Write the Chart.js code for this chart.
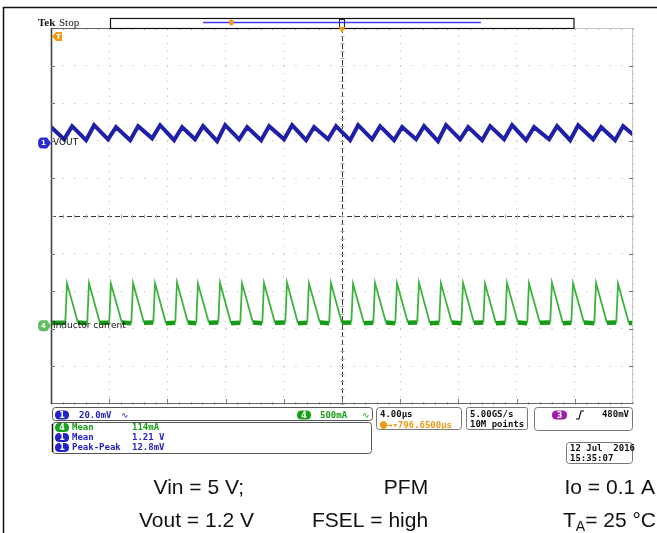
<!DOCTYPE html>
<html>
<head>
<meta charset="utf-8">
<script src="https://cdn.jsdelivr.net/npm/chart.js@4.4.1/dist/chart.umd.min.js"></script>
<style>
  body { margin: 0; background: #fff; }
  canvas { display: block; }
</style>
</head>
<body>
<canvas id="scope" width="657" height="533"></canvas>
<script>
// time in µs (4 µs/div, trigger at 0)
// VOUT ripple in mV above the ch1 marker (20 mV/div)
const vTime = [-20,
  -19.10, -18.55, -17.59, -17.04, -16.08, -15.53, -14.56, -14.01, -13.05, -12.50,
  -11.54, -10.99, -10.10, -9.55, -8.58, -8.03, -7.07, -6.52, -5.56, -5.01,
  -3.98, -3.43, -2.47, -1.92, -0.96, -0.41, 0.56, 1.11, 2.07, 2.62,
  3.58, 4.13, 5.09, 5.64, 6.60, 7.15, 8.12, 8.67, 9.63, 10.18,
  11.14, 11.69, 12.65, 13.20, 14.23, 14.78, 15.68, 16.23, 17.26, 17.81,
  18.77, 19.32, 20];
const vRipple = [8.5,
  2.0, 9.0, 1.5, 9.5, 2.0, 8.5, 1.5, 9.0, 2.5, 9.5,
  1.5, 8.5, 2.0, 9.0, 1.0, 9.5, 2.0, 8.5, 1.5, 9.0,
  2.0, 9.5, 1.5, 8.5, 2.0, 9.0, 1.5, 9.5, 2.0, 9.0,
  1.5, 8.5, 2.0, 9.0, 1.0, 9.5, 2.0, 8.5, 1.5, 9.0,
  2.0, 9.5, 1.5, 8.5, 2.0, 9.0, 1.5, 9.5, 2.0, 8.5,
  1.5, 9.0, 4.5];

// inductor current in mA above the ch4 marker (500 mA/div)
const iTime = [-20,
  -19.02, -18.90, -18.15, -17.51, -17.39, -16.64, -16.00, -15.88, -15.13,
  -14.48, -14.36, -13.61, -12.97, -12.85, -12.10, -11.46, -11.34, -10.59,
  -10.02, -9.90, -9.15, -8.50, -8.38, -7.63, -6.99, -6.87, -6.12,
  -5.48, -5.36, -4.61, -3.90, -3.78, -3.03, -2.39, -2.27, -1.52,
  -0.88, -0.76, -0.01, 0.64, 0.76, 1.51, 2.15, 2.27, 3.02,
  3.66, 3.78, 4.53, 5.17, 5.29, 6.04, 6.68, 6.80, 7.55,
  8.20, 8.32, 9.07, 9.71, 9.83, 10.58, 11.22, 11.34, 12.09,
  12.73, 12.85, 13.60, 14.31, 14.43, 15.18, 15.76, 15.88, 16.63,
  17.34, 17.46, 18.21, 18.85, 18.97, 19.72,
  20];
const iCurrent = [40,
  40, 565, 45, 35, 570, 40, 40, 560, 45,
  35, 570, 40, 45, 565, 35, 40, 575, 45,
  35, 560, 40, 45, 570, 35, 40, 565, 45,
  35, 570, 40, 45, 575, 35, 40, 565, 45,
  35, 570, 40, 45, 560, 35, 40, 570, 45,
  35, 565, 40, 45, 575, 35, 40, 565, 45,
  35, 570, 40, 45, 560, 35, 40, 570, 45,
  35, 565, 40, 45, 575, 35, 40, 565, 45,
  35, 570, 40, 45, 560, 35,
  40];

const measChannel = [4, 1, 1];
const measName = ["Mean", "Mean", "Peak-Peak"];
const measValue = ["114mA", "1.21 V", "12.8mV"];

const BLUE = "#1f1fa8";
const GREEN = "#179a17";
const ORANGE = "#f29a12";
const chColor = { 1: "#2323c8", 4: "#16a016" };

const ch1Pos = 1.94;   // marker position, divisions above centre
const ch4Pos = -2.92;

function rrect(ctx, x, y, w, h, r) {
  ctx.beginPath();
  ctx.moveTo(x + r, y);
  ctx.lineTo(x + w - r, y);
  ctx.quadraticCurveTo(x + w, y, x + w, y + r);
  ctx.lineTo(x + w, y + h - r);
  ctx.quadraticCurveTo(x + w, y + h, x + w - r, y + h);
  ctx.lineTo(x + r, y + h);
  ctx.quadraticCurveTo(x, y + h, x, y + h - r);
  ctx.lineTo(x, y + r);
  ctx.quadraticCurveTo(x, y, x + r, y);
  ctx.closePath();
}

function pill(ctx, x, y, w, h, fill, label) {
  ctx.fillStyle = fill;
  rrect(ctx, x, y, w, h, h / 2);
  ctx.fill();
  ctx.fillStyle = "#fff";
  ctx.font = 'bold 8px "DejaVu Sans"';
  ctx.textAlign = "center";
  ctx.textBaseline = "middle";
  ctx.fillText(label, x + w / 2, y + h / 2 + 0.5);
}

function chanMarker(ctx, xTip, yc, fill, label) {
  const w = 13, h = 11;
  ctx.fillStyle = fill;
  ctx.beginPath();
  ctx.moveTo(xTip - w + 4, yc - h / 2);
  ctx.lineTo(xTip - 4, yc - h / 2);
  ctx.lineTo(xTip, yc);
  ctx.lineTo(xTip - 4, yc + h / 2);
  ctx.lineTo(xTip - w + 4, yc + h / 2);
  ctx.quadraticCurveTo(xTip - w, yc + h / 2, xTip - w, yc);
  ctx.quadraticCurveTo(xTip - w, yc - h / 2, xTip - w + 4, yc - h / 2);
  ctx.fill();
  ctx.fillStyle = "#fff";
  ctx.font = 'bold 7px "DejaVu Sans"';
  ctx.textAlign = "center";
  ctx.textBaseline = "middle";
  ctx.fillText(label, xTip - w / 2 - 1, yc + 0.5);
}

function txt(ctx, s, x, y, color, font, align) {
  ctx.fillStyle = color;
  ctx.font = font;
  ctx.textAlign = align || "left";
  ctx.textBaseline = "middle";
  ctx.fillText(s, x, y);
}

const scopeDecor = {
  id: "scopeDecor",
  beforeDatasetsDraw(chart) {
    const { ctx, chartArea: a, scales } = chart;
    const x = scales.x, yg = scales.yg;
    const cx = Math.round(x.getPixelForValue(0)) + 0.5;
    const cy = Math.round(yg.getPixelForValue(0)) + 0.5;
    ctx.save();
    ctx.strokeStyle = "#333";
    ctx.lineWidth = 1;
    ctx.setLineDash([5, 3]);
    ctx.beginPath();
    ctx.moveTo(cx, a.top); ctx.lineTo(cx, a.bottom);
    ctx.moveTo(a.left, cy); ctx.lineTo(a.right, cy);
    ctx.stroke();
    ctx.setLineDash([]);
    ctx.strokeStyle = "#aaa";
    ctx.beginPath();
    for (let v = -20; v <= 20.01; v += 0.8) {
      const px = Math.round(x.getPixelForValue(v)) + 0.5;
      ctx.moveTo(px, cy - 2); ctx.lineTo(px, cy + 2);
      ctx.moveTo(px, a.bottom - 2); ctx.lineTo(px, a.bottom);
      ctx.moveTo(px, a.top); ctx.lineTo(px, a.top + 2);
    }
    for (let v = -5; v <= 5.01; v += 0.2) {
      const py = Math.round(yg.getPixelForValue(v)) + 0.5;
      ctx.moveTo(cx - 2, py); ctx.lineTo(cx + 2, py);
    }
    ctx.stroke();
    ctx.restore();
  },
  afterDraw(chart) {
    const { ctx, chartArea: a, scales } = chart;
    const x = scales.x, yg = scales.yg;
    ctx.save();

    // page frame
    ctx.strokeStyle = "#111";
    ctx.lineWidth = 1.5;
    ctx.beginPath();
    ctx.moveTo(3.5, 533); ctx.lineTo(3.5, 7.5); ctx.lineTo(657, 7.5);
    ctx.stroke();

    // graticule border
    ctx.lineWidth = 1;
    ctx.strokeStyle = "#c4c4c4";
    ctx.beginPath();
    ctx.moveTo(a.right - 0.5, a.top); ctx.lineTo(a.right - 0.5, a.bottom);
    ctx.moveTo(574, a.top + 0.5); ctx.lineTo(a.right, a.top + 0.5);
    ctx.stroke();
    ctx.strokeStyle = "#666";
    ctx.beginPath();
    ctx.moveTo(a.left, a.top + 0.5); ctx.lineTo(110, a.top + 0.5);
    ctx.moveTo(a.left, a.bottom - 0.5); ctx.lineTo(a.right, a.bottom - 0.5);
    ctx.stroke();
    ctx.strokeStyle = "#444";
    ctx.lineWidth = 1.6;
    ctx.beginPath();
    ctx.moveTo(a.left + 0.5, a.top); ctx.lineTo(a.left + 0.5, a.bottom);
    ctx.stroke();
    ctx.lineWidth = 1;
    ctx.strokeStyle = "#777";
    ctx.beginPath();
    for (let v = -4; v <= 4; v++) {
      const py = Math.round(yg.getPixelForValue(v)) + 0.5;
      ctx.moveTo(a.left, py); ctx.lineTo(a.left + 4, py);
      ctx.moveTo(a.right - 4, py); ctx.lineTo(a.right, py);
    }
    for (let v = -16; v <= 16; v += 4) {
      const px = Math.round(x.getPixelForValue(v)) + 0.5;
      ctx.moveTo(px, a.bottom - 5); ctx.lineTo(px, a.bottom);
    }
    ctx.stroke();

    // record view bar
    ctx.strokeStyle = "#111";
    ctx.lineWidth = 1.2;
    ctx.strokeRect(110.5, 18.5, 463.5, 10);
    ctx.strokeStyle = "#3f3ff5";
    ctx.lineWidth = 1.3;
    ctx.beginPath(); ctx.moveTo(203, 22.5); ctx.lineTo(481, 22.5); ctx.stroke();
    ctx.fillStyle = ORANGE;
    rrect(ctx, 229, 19.5, 4.5, 6, 2); ctx.fill();
    ctx.strokeStyle = "#222";
    ctx.lineWidth = 1;
    ctx.strokeRect(339.5, 19.5, 5, 8);
    // trigger position
    const tx = x.getPixelForValue(0);
    ctx.fillStyle = ORANGE;
    ctx.beginPath();
    ctx.moveTo(tx - 3.5, 27); ctx.lineTo(tx + 3.5, 27); ctx.lineTo(tx, 33); ctx.closePath();
    ctx.fill();

    // Tek Stop
    ctx.fillStyle = "#111";
    ctx.textBaseline = "alphabetic";
    ctx.textAlign = "left";
    ctx.font = 'bold 11px "Liberation Serif"';
    ctx.fillText("Tek", 38, 26);
    ctx.font = '11px "Liberation Serif"';
    ctx.fillText("Stop", 59, 26);

    // trigger level marker
    ctx.fillStyle = ORANGE;
    ctx.beginPath();
    ctx.moveTo(a.left + 1, 36.5); ctx.lineTo(a.left + 5, 32); ctx.lineTo(a.left + 11, 32);
    ctx.lineTo(a.left + 11, 41); ctx.lineTo(a.left + 5, 41); ctx.closePath();
    ctx.fill();
    txt(ctx, "T", a.left + 7.5, 36.8, "#fff", 'bold 7px "DejaVu Sans"', "center");

    // channel markers
    const y1p = chart.scales.y1.getPixelForValue(0);
    const y4p = chart.scales.y4.getPixelForValue(0);
    chanMarker(ctx, a.left, y1p, "#2a2ad0", "1");
    chanMarker(ctx, a.left, y4p, "#5fbf5f", "4");
    txt(ctx, "VOUT", a.left + 2, y1p, "#111", '9px "DejaVu Sans"');
    txt(ctx, "Inductor current", a.left + 2, y4p, "#111", '9px "DejaVu Sans"');

    // readout boxes
    const mono = 'bold 9px "DejaVu Sans Mono"';
    ctx.strokeStyle = "#555";
    ctx.lineWidth = 1;
    rrect(ctx, 52.5, 407.5, 320, 13, 3); ctx.stroke();
    rrect(ctx, 52.5, 422.5, 319, 31, 3); ctx.stroke();
    ctx.strokeStyle = "#111";
    ctx.lineWidth = 1.5;
    ctx.beginPath(); ctx.moveTo(52.5, 424); ctx.lineTo(52.5, 452); ctx.stroke();
    ctx.strokeStyle = "#777";
    ctx.lineWidth = 1;
    rrect(ctx, 376.5, 407.5, 85, 22, 3); ctx.stroke();
    rrect(ctx, 466.5, 407.5, 61, 22, 2); ctx.stroke();
    rrect(ctx, 534.5, 407.5, 98, 23, 3); ctx.stroke();
    rrect(ctx, 566.5, 442.5, 66, 21, 3); ctx.stroke();

    pill(ctx, 55, 410.5, 14, 9, "#2323c8", "1");
    txt(ctx, "20.0mV", 79, 415.5, "#2323c8", mono);
    txt(ctx, "\u223F", 121, 415.5, "#2323c8", '9px "DejaVu Sans"');
    pill(ctx, 297, 410.5, 14, 9, "#16a016", "4");
    txt(ctx, "500mA", 320, 415.5, "#16a016", mono);
    txt(ctx, "\u223F", 362, 415.5, "#16a016", '9px "DejaVu Sans"');

    txt(ctx, "4.00\u00b5s", 380, 414.5, "#111", mono);
    pill(ctx, 380, 421, 7, 8, ORANGE, "");
    txt(ctx, "\u2192\u25be796.6500\u00b5s", 387, 425.5, ORANGE, mono);
    txt(ctx, "5.00GS/s", 470, 414.5, "#111", mono);
    txt(ctx, "10M points", 470, 425, "#111", mono);
    pill(ctx, 552, 410.5, 15, 9, "#a21aa8", "3");
    ctx.strokeStyle = "#111";
    ctx.lineWidth = 1.2;
    ctx.beginPath();
    ctx.moveTo(576, 419); ctx.lineTo(579, 419); ctx.lineTo(581, 411); ctx.lineTo(584, 411);
    ctx.stroke();
    txt(ctx, "480mV", 629, 414.5, "#111", mono, "right");
    txt(ctx, "12 Jul  2016", 570, 448.5, "#111", mono);
    txt(ctx, "15:35:07", 570, 458.5, "#111", mono);

    for (let i = 0; i < measName.length; i++) {
      const yy = 427.5 + i * 10;
      const c = chColor[measChannel[i]];
      pill(ctx, 55, yy - 4.5, 14, 9, c, String(measChannel[i]));
      txt(ctx, measName[i], 72, yy, c, mono);
      txt(ctx, measValue[i], 132, yy, c, mono);
    }

    // captions
    const cap = '21px "Liberation Sans"';
    const sub = '14px "Liberation Sans"';
    ctx.fillStyle = "#111";
    ctx.textBaseline = "alphabetic";
    ctx.font = cap;
    ctx.textAlign = "right";
    ctx.fillText("Vin = 5 V;", 244, 494);
    ctx.fillText("Io = 0.1 A", 655, 494);
    ctx.fillText("Vout = 1.2 V", 254, 527);
    ctx.textAlign = "center";
    ctx.fillText("PFM", 406, 494);
    ctx.fillText("FSEL = high", 370, 527);
    // T_A= 25 °C, right aligned at 656
    ctx.textAlign = "left";
    const rest = "= 25 \u00b0C";
    const wRest = ctx.measureText(rest).width;
    const wT = ctx.measureText("T").width;
    ctx.font = sub;
    const wA = ctx.measureText("A").width;
    const xs = 656 - wRest - wA - wT;
    ctx.font = cap;
    ctx.fillText("T", xs, 527);
    ctx.font = sub;
    ctx.fillText("A", xs + wT, 531);
    ctx.font = cap;
    ctx.fillText(rest, xs + wT + wA, 527);

    ctx.restore();
  }
};

const ctx = document.getElementById("scope").getContext("2d");
new Chart(ctx, {
  type: "line",
  data: {
    datasets: [
      {
        label: "VOUT",
        data: vTime.map((t, i) => ({ x: t, y: vRipple[i] })),
        yAxisID: "y1",
        borderColor: BLUE,
        borderWidth: 4,
        pointRadius: 0,
        tension: 0,
      },
      {
        label: "Inductor current",
        data: iTime.map((t, i) => ({ x: t, y: iCurrent[i] })),
        yAxisID: "y4",
        borderColor: GREEN,
        borderWidth: 4,
        pointRadius: 0,
        tension: 0,
        segment: {
          borderColor: (c) => Math.abs(c.p1.parsed.y - c.p0.parsed.y) > 200 ? "#3cb43c" : GREEN,
          borderWidth: (c) => Math.abs(c.p1.parsed.y - c.p0.parsed.y) > 200 ? 1.8 : 4.5,
        },
      },
    ],
  },
  options: {
    responsive: false,
    animation: false,
    layout: { padding: { left: 51, top: 28, right: 24, bottom: 129 } },
    plugins: { legend: { display: false }, tooltip: { enabled: false } },
    scales: {
      x: {
        type: "linear",
        min: -20,
        max: 20,
        ticks: { stepSize: 4, display: false },
        grid: {
          drawTicks: false,
          color: (c) => (c.tick && c.tick.value === 0 ? "transparent" : "#b4b4b4"),
        },
        border: { display: false, dash: [1, 6.52] },
      },
      yg: {
        type: "linear",
        position: "left",
        min: -5,
        max: 5,
        ticks: { stepSize: 1, display: false },
        grid: {
          drawTicks: false,
          color: (c) => (c.tick && c.tick.value === 0 ? "transparent" : "#b4b4b4"),
        },
        border: { display: false, dash: [1, 10.64] },
      },
      y1: { display: false, min: (-5 - ch1Pos) * 20, max: (5 - ch1Pos) * 20 },
      y4: { display: false, min: (-5 - ch4Pos) * 500, max: (5 - ch4Pos) * 500 },
    },
  },
  plugins: [scopeDecor],
});
</script>
</body>
</html>
